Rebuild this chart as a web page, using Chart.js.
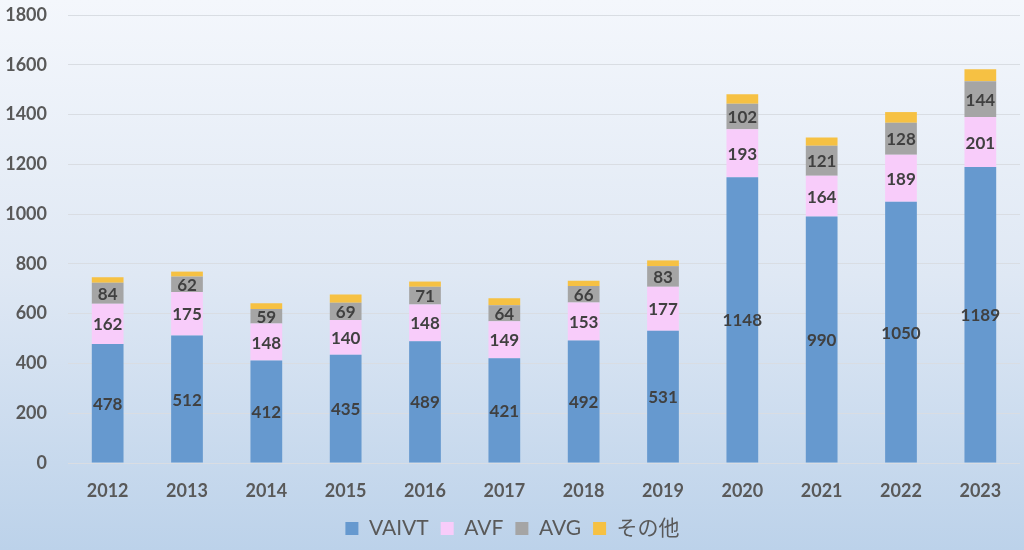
<!DOCTYPE html>
<html>
<head>
<meta charset="utf-8">
<script src="https://cdn.jsdelivr.net/npm/chart.js@4"></script>
<style>
    html, body { margin: 0; padding: 0; }
    body {
        width: 1024px; height: 550px; overflow: hidden;
        background: linear-gradient(to bottom, #f4f7fc 0%, #dfe8f4 50%, #bcd2ea 100%);
    }
    #wrap { position: relative; width: 1024px; height: 550px; }
</style>
</head>
<body>
<div id="wrap"><canvas id="chart"></canvas></div>
<script>
// --- Data ---
const years = ['2012', '2013', '2014', '2015', '2016', '2017', '2018', '2019', '2020', '2021', '2022', '2023'];
const vaivt = [478, 512, 412, 435, 489, 421, 492, 531, 1148, 990, 1050, 1189];
const avf = [162, 175, 148, 140, 148, 149, 153, 177, 193, 164, 189, 201];
const avg = [84, 62, 59, 69, 71, 64, 66, 83, 102, 121, 128, 144];
const other = [22, 20, 23, 33, 21, 28, 21, 23, 39, 33, 43, 48];
const yTicks = [0, 200, 400, 600, 800, 1000, 1200, 1400, 1600, 1800];

const seriesNames = ['VAIVT', 'AVF', 'AVG', 'その他'];
const seriesColors = ['#6699cf', '#f8ccfa', '#a5a5a5', '#f6c143'];
const textColor = '#595959';
const fontFamily = 'Lato, "Noto Sans CJK JP", sans-serif';

// Draw value labels in the middle of each segment (first three series only)
const segmentLabels = {
    id: 'segmentLabels',
    afterDatasetsDraw(chart) {
        const ctx = chart.ctx;
        ctx.save();
        ctx.font = 'bold 17px ' + fontFamily;
        ctx.fillStyle = '#404040';
        ctx.textAlign = 'center';
        ctx.textBaseline = 'middle';
        chart.data.datasets.forEach((ds, i) => {
            if (!ds.showLabels) return;
            chart.getDatasetMeta(i).data.forEach((bar, j) => {
                const mid = (bar.y + bar.base) / 2;
                ctx.fillText(String(ds.data[j]), bar.x, mid + 1);
            });
        });
        ctx.restore();
    }
};

const ctx = document.getElementById('chart').getContext('2d');
new Chart(ctx, {
    type: 'bar',
    data: {
        labels: years,
        datasets: [vaivt, avf, avg, other].map((d, i) => ({
            label: seriesNames[i],
            data: d,
            backgroundColor: seriesColors[i],
            borderWidth: 0,
            barPercentage: 0.8,
            categoryPercentage: 0.5,
            showLabels: i < 3
        }))
    },
    options: {
        responsive: true,
        maintainAspectRatio: false,
        animation: false,
        layout: { padding: { top: 15, right: 4, left: 5, bottom: 1 } },
        plugins: {
            legend: {
                position: 'bottom',
                labels: {
                    color: textColor,
                    font: { family: fontFamily, size: 21 },
                    boxWidth: 13,
                    boxHeight: 13,
                    padding: 12
                }
            },
            tooltip: { enabled: false }
        },
        scales: {
            x: {
                stacked: true,
                afterFit: (axis) => { axis.height = 43; },
                grid: { display: false },
                border: { display: false },
                ticks: {
                    color: textColor,
                    font: { family: fontFamily, size: 18, weight: 'bold' },
                    padding: 9
                }
            },
            y: {
                stacked: true,
                min: 0,
                max: 1800,
                afterBuildTicks: (axis) => { axis.ticks = yTicks.map(v => ({ value: v })); },
                // fixed axis width so the plot starts where the reference does
                afterFit: (axis) => {
                    axis.width = 63;
                    axis.paddingTop = 0;
                    axis.paddingBottom = 0;
                },
                grid: { color: '#d9dde3', lineWidth: 1, drawTicks: false },
                border: { display: false },
                ticks: {
                    color: textColor,
                    font: { family: fontFamily, size: 18, weight: 'bold' },
                    padding: 21,
                    callback: (v) => String(v)
                }
            }
        }
    },
    plugins: [segmentLabels]
});
</script>
</body>
</html>
